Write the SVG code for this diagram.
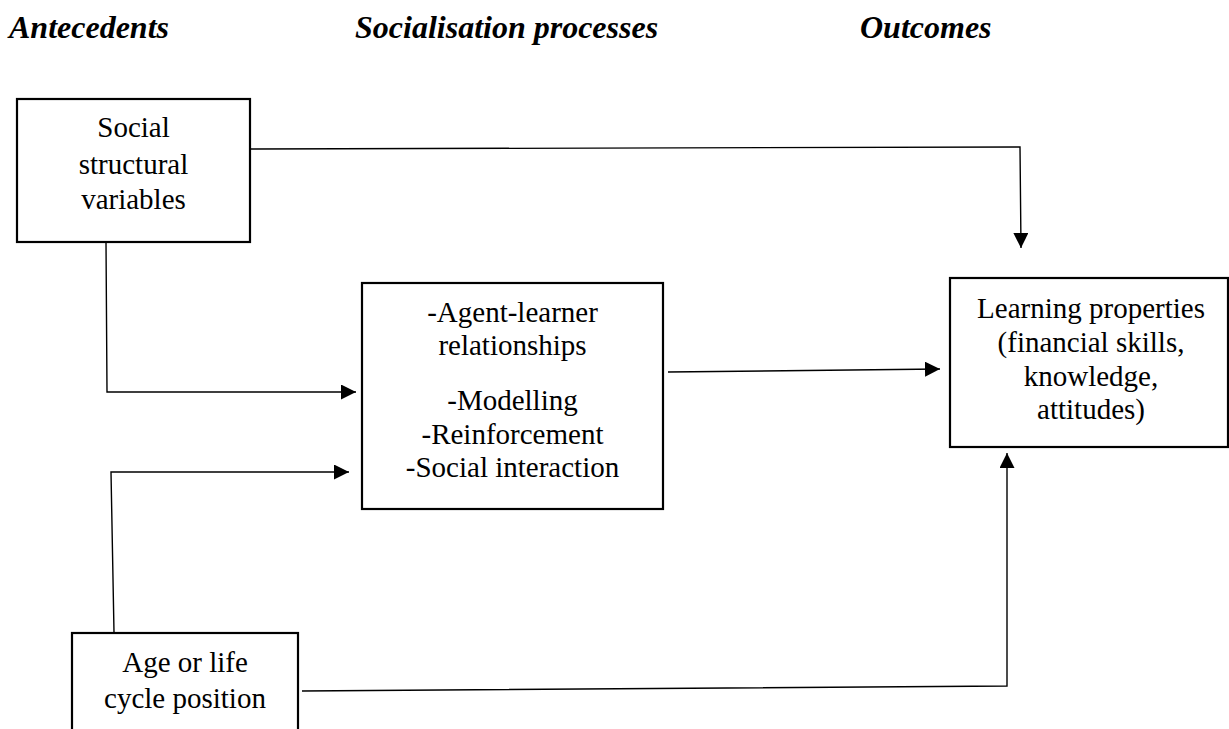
<svg xmlns="http://www.w3.org/2000/svg" width="1229" height="729" viewBox="0 0 1229 729">
  <style>
    .box { fill: #ffffff; stroke: #000000; stroke-width: 2.2; }
    .lbl { font-family: "Liberation Serif", "Times New Roman", serif; font-size: 29px; fill: #000000; text-anchor: middle; }
    .head { font-family: "Liberation Serif", "Times New Roman", serif; font-size: 32px; font-weight: bold; font-style: italic; fill: #000000; }
    .wire { fill: none; stroke: #000000; stroke-width: 1.4; }
  </style>
  <defs>
    <marker id="arrow" viewBox="0 0 15 15" refX="15" refY="7.5" markerWidth="15" markerHeight="15" markerUnits="userSpaceOnUse" orient="auto">
      <path d="M0,0 L15,7.5 L0,15 Z" fill="#000000"/>
    </marker>
  </defs>

  <rect width="1229" height="729" fill="#ffffff"/>

  <!-- column headings -->
  <g id="headings">
    <text class="head" x="9" y="38">Antecedents</text>
    <text class="head" x="355" y="38">Socialisation processes</text>
    <text class="head" x="860" y="38">Outcomes</text>
  </g>

  <!-- connectors -->
  <g id="connectors">
    <polyline class="wire" points="250,149 1020,147 1021,248" marker-end="url(#arrow)"/>
    <polyline class="wire" points="106,242 107,392 356,392" marker-end="url(#arrow)"/>
    <polyline class="wire" points="114,632 111,472 349,472" marker-end="url(#arrow)"/>
    <line class="wire" x1="668" y1="372" x2="940" y2="369" marker-end="url(#arrow)"/>
    <polyline class="wire" points="302,691 1007,686 1007,453" marker-end="url(#arrow)"/>
  </g>

  <g id="social-structural">
    <rect class="box" x="17" y="99" width="233" height="143"/>
    <text class="lbl" x="133.5" y="137">Social</text>
    <text class="lbl" x="133.5" y="174">structural</text>
    <text class="lbl" x="133.5" y="209">variables</text>
  </g>

  <g id="socialisation">
    <rect class="box" x="362" y="283" width="301" height="226"/>
    <text class="lbl" x="512.5" y="322">-Agent-learner</text>
    <text class="lbl" x="512.5" y="355">relationships</text>
    <text class="lbl" x="512.5" y="410">-Modelling</text>
    <text class="lbl" x="512.5" y="444">-Reinforcement</text>
    <text class="lbl" x="512.5" y="477">-Social interaction</text>
  </g>

  <g id="learning-properties">
    <rect class="box" x="950" y="278" width="278" height="169"/>
    <text class="lbl" x="1091" y="318">Learning properties</text>
    <text class="lbl" x="1091" y="352">(financial skills,</text>
    <text class="lbl" x="1091" y="386">knowledge,</text>
    <text class="lbl" x="1091" y="419">attitudes)</text>
  </g>

  <g id="age-life-cycle">
    <rect class="box" x="72" y="633" width="226" height="110"/>
    <text class="lbl" x="185" y="672">Age or life</text>
    <text class="lbl" x="185" y="708">cycle position</text>
  </g>
</svg>
